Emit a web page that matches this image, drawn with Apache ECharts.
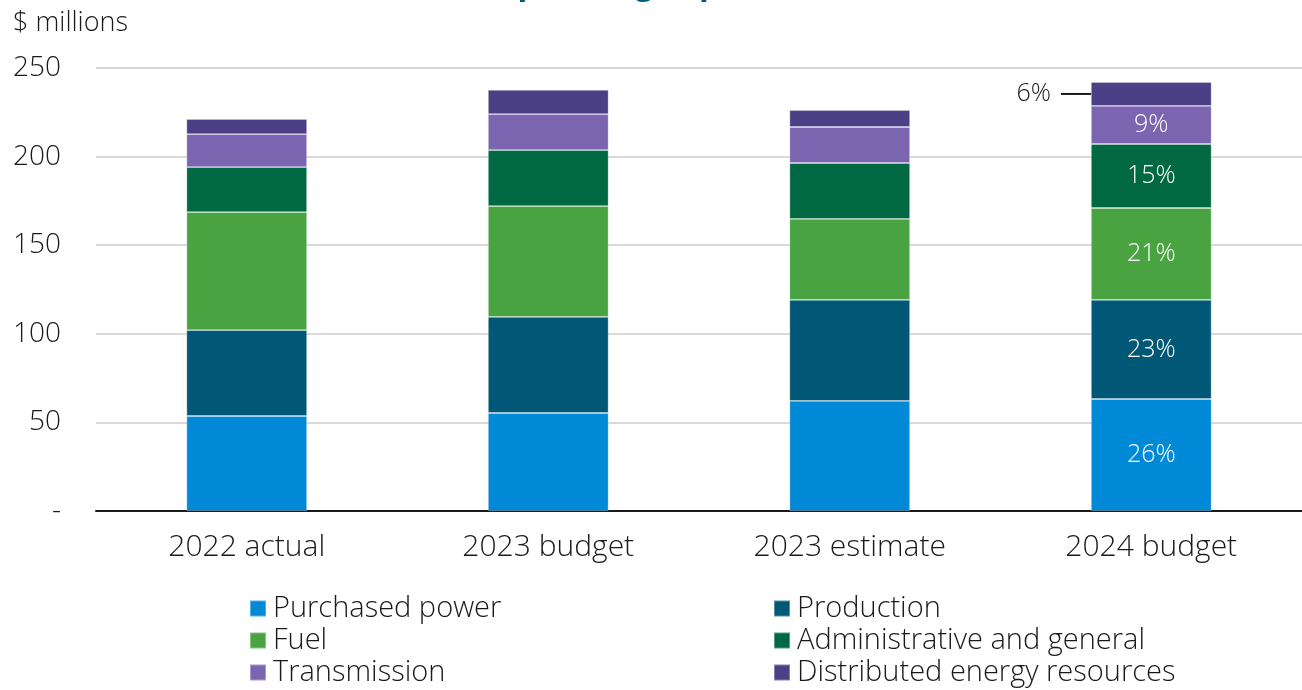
<!DOCTYPE html>
<html>
<head>
<meta charset="utf-8">
<script src="https://cdn.jsdelivr.net/npm/echarts@6/dist/echarts.min.js"></script>
<style>html,body{margin:0;padding:0;background:#fff;}#c{width:1302px;height:690px;}</style>
</head>
<body>
<div id="c"></div>
<script>
const categories = ['2022 actual', '2023 budget', '2023 estimate', '2024 budget'];
const purchasedPower = [53.6, 55.3, 62.1, 63.2];
const production = [48.5, 54.2, 57.0, 55.9];
const fuel = [66.6, 62.6, 45.7, 51.9];
const adminGeneral = [25.4, 31.6, 31.6, 36.1];
const transmission = [18.6, 20.3, 20.3, 21.5];
const der = [8.5, 13.6, 9.6, 13.5];
const lastBarPct = ['26%', '23%', '21%', '15%', '9%', '6%'];
const yTicks = [0, 50, 100, 150, 200, 250];

const FONT = '"Open Sans", Lato, sans-serif';
const FW = 300;
const names = ['Purchased power', 'Production', 'Fuel', 'Administrative and general', 'Transmission', 'Distributed energy resources'];
const colors = ['#0089D7', '#005876', '#4AA341', '#006944', '#7B65B1', '#4B4085'];
const values = [purchasedPower, production, fuel, adminGeneral, transmission, der];

const series = values.map((vals, si) => ({
  name: names[si],
  type: 'bar',
  stack: 'total',
  barWidth: '40%',
  itemStyle: { color: colors[si], borderColor: 'rgba(255,255,255,0.35)', borderWidth: 0.8 },
  emphasis: { disabled: true },
  data: vals.map((v, i) => {
    if (i !== 3) return v;
    if (si === 5) {
      return {
        value: v,
        label: {
          show: true, position: 'left', distance: 0,
          formatter: '{t|' + lastBarPct[si] + '}{g|}{l|}',
          rich: {
            t: { fontFamily: FONT, fontWeight: FW, fontSize: 25, color: '#1a1a1a' },
            g: { width: 10, height: 2 },
            l: { width: 30, height: 2, backgroundColor: '#1a1a1a' }
          }
        }
      };
    }
    return {
      value: v,
      label: { show: true, position: 'inside', formatter: lastBarPct[si], color: '#fff', fontFamily: FONT, fontWeight: FW, fontSize: 25 }
    };
  })
}));

const legendText = { fontFamily: FONT, fontWeight: FW, fontSize: 29, color: '#1a1a1a', lineHeight: 27, padding: [0, 0, 0, 2] };

const chart = echarts.init(document.getElementById('c'), null, { renderer: 'canvas' });
chart.setOption({
  animation: false,
  backgroundColor: '#fff',
  title: {
    text: 'Operating expenses', left: 'center', top: -36,
    textStyle: { fontFamily: FONT, fontSize: 32, fontWeight: 'bold', color: '#005A7A' }
  },
  graphic: [{
    type: 'text', left: 13, top: 10,
    style: { text: '$ millions', fontFamily: FONT, fontWeight: FW, fontSize: 27, fill: '#1a1a1a' }
  }],
  grid: { left: 96, right: 0, top: 68, bottom: 179, containLabel: false },
  xAxis: {
    type: 'category', data: categories,
    axisLine: { lineStyle: { color: '#1a1a1a', width: 2 } },
    axisTick: { show: false },
    axisLabel: { fontFamily: FONT, fontWeight: FW, fontSize: 30, color: '#1a1a1a', margin: 21 }
  },
  yAxis: {
    type: 'value', min: 0, max: 250, interval: 50,
    axisLine: { show: false }, axisTick: { show: false },
    splitLine: { lineStyle: { color: '#d9d9d9', width: 2 } },
    axisLabel: {
      fontFamily: FONT, fontWeight: FW, fontSize: 28, color: '#1a1a1a', margin: 35,
      formatter: v => (yTicks.indexOf(v) === 0 ? '-' : String(v))
    }
  },
  legend: [
    {
      orient: 'vertical', left: 249, top: 594, height: 200, padding: 0, itemWidth: 16, itemHeight: 16, itemGap: 3, icon: 'rect',
      data: [names[0], names[2], names[4]], textStyle: legendText, selectedMode: false
    },
    {
      orient: 'vertical', left: 773, top: 594, height: 200, padding: 0, itemWidth: 16, itemHeight: 16, itemGap: 3, icon: 'rect',
      data: [names[1], names[3], names[5]], textStyle: legendText, selectedMode: false
    }
  ],
  series: series
});
</script>
</body>
</html>
